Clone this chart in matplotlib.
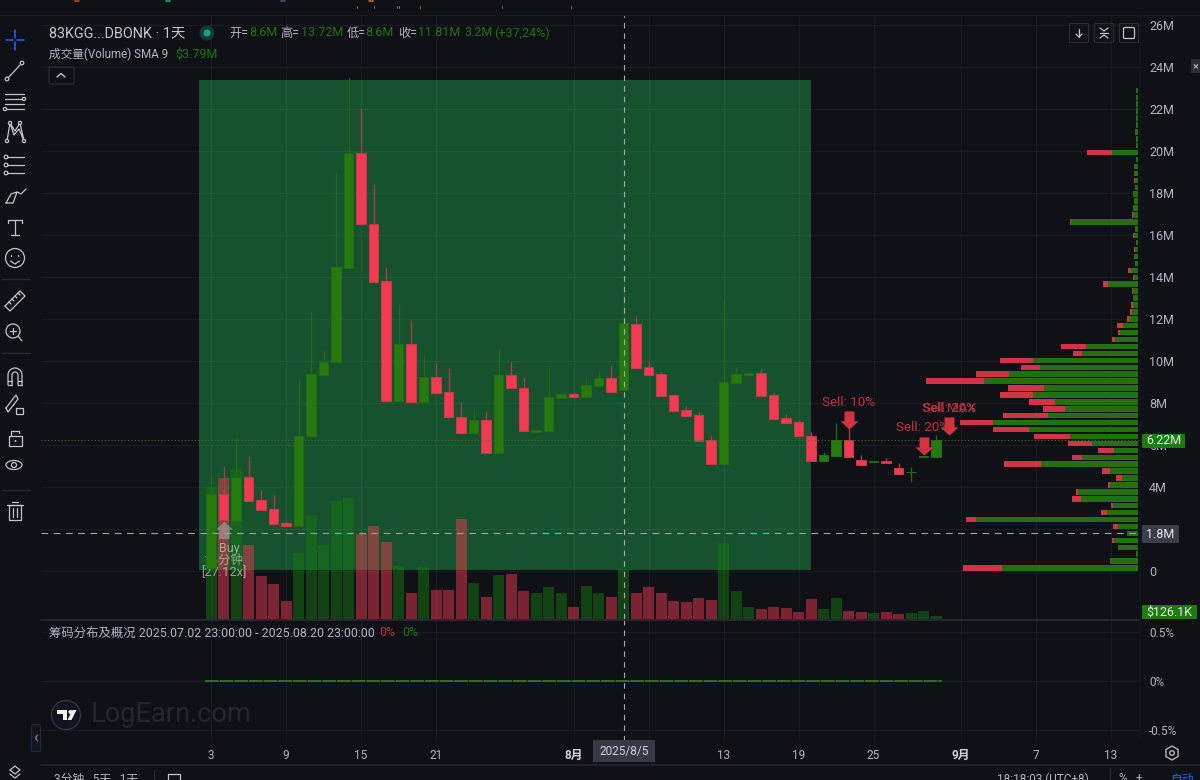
import matplotlib
matplotlib.use("Agg")
import matplotlib.pyplot as plt
import numpy as np
from matplotlib.patches import Rectangle, FancyBboxPatch, Circle, RegularPolygon, Ellipse, Polygon
from matplotlib.path import Path

plt.rcParams['font.family'] = ['Roboto', 'Noto Sans CJK SC', 'DejaVu Sans']

# candles, one per day from 2025/7/3, values in millions
opens = [0.14, 3.67, 2.38, 4.48, 3.38, 2.95, 2.29, 2.14, 6.43, 9.33, 9.95, 14.43, 19.90, 16.52, 13.81,
         8.10, 10.81, 8.05, 9.24, 8.52, 7.33, 6.57, 7.19, 5.62, 9.33, 8.71, 6.64, 6.67, 8.24, 8.43,
         8.29, 8.81, 9.19, 8.60, 11.76, 9.71, 9.38, 8.38, 7.67, 7.43, 6.24, 5.10, 8.95, 9.33, 9.43,
         8.38, 7.29, 7.10, 6.43, 5.24, 5.48, 6.24, 5.29, 5.19, 5.24, 4.90, 4.70, 5.43, 5.43]
highs = [4.67, 4.95, 6.33, 5.48, 3.86, 3.62, 2.38, 9.10, 12.33, 10.52, 18.95, 23.48, 22.05, 18.43, 14.48,
         12.71, 11.95, 10.29, 9.90, 9.67, 8.05, 7.76, 7.62, 10.57, 9.95, 9.24, 6.76, 9.76, 8.48, 8.52,
         9.29, 9.52, 9.76, 13.72, 12.14, 10.00, 9.48, 8.43, 7.86, 7.57, 6.48, 13.00, 9.71, 9.48, 9.62,
         8.52, 7.48, 7.19, 6.62, 5.67, 7.05, 6.81, 5.52, 5.24, 5.38, 5.14, 4.95, 5.48, 6.48]
lows = [0.14, 2.43, 2.38, 3.33, 2.90, 2.24, 2.14, 2.14, 6.43, 9.33, 9.95, 14.43, 16.52, 13.76, 8.10,
        8.10, 8.05, 8.05, 8.48, 7.33, 6.57, 6.57, 5.62, 5.62, 8.71, 6.67, 6.64, 6.67, 8.24, 8.29,
        8.29, 8.81, 8.52, 8.60, 9.67, 9.33, 8.33, 7.62, 7.38, 6.19, 5.10, 5.10, 8.95, 9.33, 8.33,
        7.24, 7.05, 6.43, 5.24, 5.24, 5.48, 5.43, 5.05, 5.19, 5.14, 4.62, 4.24, 5.43, 5.43]
closes = [3.67, 2.43, 4.48, 3.33, 2.90, 2.24, 2.14, 6.43, 9.38, 9.95, 14.48, 19.90, 16.52, 13.76, 8.10,
          10.81, 8.05, 9.24, 8.48, 7.33, 6.57, 7.19, 5.62, 9.33, 8.71, 6.67, 6.71, 8.29, 8.43, 8.29,
          8.86, 9.19, 8.52, 11.81, 9.67, 9.33, 8.33, 7.62, 7.38, 6.19, 5.10, 9.00, 9.38, 9.43, 8.33,
          7.24, 7.05, 6.43, 5.24, 5.52, 6.24, 5.43, 5.05, 5.24, 5.14, 4.62, 4.71, 5.48, 6.22]
volumes = [5.50, 5.88, 6.25, 3.08, 1.79, 1.46, 0.75, 2.75, 4.33, 3.08, 4.92, 5.04, 3.54, 3.88, 3.21,
           2.21, 1.08, 2.17, 1.21, 1.21, 4.17, 1.50, 0.92, 1.83, 1.88, 1.17, 1.08, 1.33, 1.08, 0.50,
           1.38, 1.08, 0.92, 2.08, 1.08, 1.33, 1.08, 0.75, 0.71, 0.88, 0.79, 3.17, 1.17, 0.50, 0.42,
           0.50, 0.46, 0.29, 0.83, 0.42, 0.88, 0.33, 0.29, 0.25, 0.29, 0.21, 0.25, 0.33, 0.126]

# volume profile, lowest price bin first
prof_buy = [135.7, 28, 1.3, 20, 24, 10.7, 19.3, 161.7, 30.7, 24.7, 56.7, 60, 27.7, 15.7, 27.7, 96.7, 55.7, 23.7,
            46, 67.7, 108.7, 144.3, 89.7, 72.7, 82.7, 105, 93.7, 153.7, 128.7, 97.3, 104.3, 55.7, 52, 22.7, 17.7,
            14.7, 8.7, 6, 5, 4.7, 4.3, 29.7, 3.7, 6.3, 2.7, 3.7, 3, 1.7, 3.7, 2.7, 66.3, 4.3, 4.7, 3.7, 4.7, 2.7,
            3, 3.7, 3.7, 1.7, 26, 1.7, 1.7, 2.7, 1.7, 2, 1.3, 1.3, 1.3, 1.3]
prof_sell = [39, 0, 0, 0, 2, 0, 5, 10.3, 6, 2.3, 9.3, 1.7, 2, 6, 8, 37, 10.3, 15.7,
             23.7, 35.7, 35.7, 33, 45, 22, 26, 32.3, 35.7, 58, 33, 19, 33, 8.7, 24.3, 2.7, 1.7,
             6.3, 2, 1.3, 1.3, 0, 1.3, 4.7, 1, 3.3, 0, 0, 0.7, 0, 1, 0, 1, 1.3, 0, 0, 0, 0,
             0.7, 0, 0, 0, 24.7, 0, 0, 0, 0, 0, 0, 0, 0, 0]
prof_start = 0.14
prof_step = 0.3297

# the 2M and 7 labels sit behind the cursor tags in the screenshot
price_ticks = [0, 2, 4, 6, 8, 10, 12, 14, 16, 18, 20, 22, 24, 26]
price_labels = ['0', '', '4M', '6M', '8M', '10M', '12M', '14M', '16M', '18M', '20M', '22M', '24M', '26M']
day_ticks = [0, 6, 12, 18, 29, 35, 41, 47, 53, 60, 66, 72]
day_labels = ['3', '9', '15', '21', '8月', '', '13', '19', '25', '9月', '7', '13']
pct_ticks = [0.5, 0, -0.5]
pct_labels = ['0.5%', '0%', '-0.5%']

BG = '#0f1117'
GREEN = '#267a10'
RED = '#f23a52'
TXT = '#b2b5be'
DIMGREEN = '#1f7413'
ICON = '#c4c6cc'

fig = plt.figure(figsize=(12, 7.8), dpi=100, facecolor=BG)


def pane(top, bottom):
    return [41 / 1200, 1 - bottom / 780, 1099 / 1200, (bottom - top) / 780]


xlim = ((41 - 211) / 12.5, (1140 - 211) / 12.5)
ylim = ((571 - 619) / 21, (571 - 15) / 21)

# base layer: background, range box, grid, price labels
ax = fig.add_axes(pane(15, 619), facecolor=BG)
ax.set_xlim(xlim)
ax.set_ylim(ylim)
ax.add_patch(Rectangle((-1, 0.05), 49, 23.33, facecolor='#16522e', edgecolor='none', zorder=1))
ax.set_xticks(day_ticks)
ax.set_yticks(price_ticks)
ax.set_yticklabels(price_labels, fontsize=9, color=TXT)
ax.set_xticklabels([])
ax.yaxis.tick_right()
ax.tick_params(length=0, pad=6.5)
ax.grid(True, color='white', alpha=0.042, lw=1, zorder=1.5)
ax.set_axisbelow(False)
for s in ax.spines.values():
    s.set_visible(False)

days = np.arange(len(opens))
op = np.array(opens)
cl = np.array(closes)
lo = np.array(lows)
hi = np.array(highs)
up = cl >= op

# volume layer
vax = fig.add_axes(pane(15, 619), facecolor='none')
vax.set_xlim(xlim)
vax.set_ylim(0, 604 / 24)
vax.bar(days, volumes, width=0.88, color=['#177a10' if u else RED for u in up], alpha=0.48, linewidth=0)
vax.axis('off')

# candle layer
top = fig.add_axes(pane(15, 619), facecolor='none')
top.set_xlim(xlim)
top.set_ylim(ylim)
top.axis('off')

# Buy marker sits under the candles
arrow_up = Path([(-0.6, -1), (0.6, -1), (0.6, 0.1), (1, 0.1), (0, 1), (-1, 0.1), (-0.6, 0.1), (-0.6, -1)], closed=True)
arrow_down = Path([(-0.55, 1), (0.55, 1), (0.55, -0.1), (1, -0.1), (0, -1), (-1, -0.1), (-0.55, -0.1), (-0.55, 1)], closed=True)
top.plot([1], [1.95], marker=arrow_up, ms=12.5, color='#c8ccd2', alpha=0.42, mew=0, zorder=2)
top.text(1.5, 1.07, 'Buy', color='#d8c8c8', alpha=0.7, fontsize=9, ha='center', va='center', zorder=2)
top.text(1, 0.5, '15分钟', color='#d8c8c8', alpha=0.65, fontsize=9, ha='center', va='center', zorder=2)
top.text(1, -0.05, '[27.12x]', color='#d8d8d8', alpha=0.65, fontsize=9.3, ha='center', va='center', zorder=2)

top.vlines(days[up], lo[up], hi[up], color='#1f6e12', lw=0.9, zorder=3)
top.vlines(days[~up], lo[~up], hi[~up], color='#b83a4c', lw=0.9, zorder=3)
top.bar(days[up], (cl - op)[up], bottom=op[up], width=0.76, color=GREEN, edgecolor='#226e10', linewidth=0.7, zorder=4)
top.bar(days[~up], (op - cl)[~up], bottom=cl[~up], width=0.76, color=RED, edgecolor='#c93a4c', linewidth=0.7, zorder=4)

# profile layer, bars grow leftwards from the right edge
pax = fig.add_axes(pane(15, 619), facecolor='none')
pax.set_xlim(1137.7 - 41, 1137.7 - 1140)
pax.set_ylim(ylim)
pax.axis('off')
bins = prof_start + prof_step * np.arange(len(prof_buy))
pax.barh(bins, prof_buy, height=0.26, color='#22700f', linewidth=0)
pax.barh(bins, prof_sell, left=prof_buy, height=0.26, color='#cf3448', linewidth=0)

# last price, cursor lines and sell marks on top
mark = fig.add_axes(pane(15, 619), facecolor='none')
mark.set_xlim(xlim)
mark.set_ylim(ylim)
mark.axis('off')
mark.axhline(6.22, color='#2c7a1c', lw=0.8, ls=(0, (1, 2)))
mark.axhline(1.8, color='#a0a3aa', lw=0.8, ls=(0, (6, 5)))
mark.axvline(33, color='#a8abb2', lw=0.8, ls=(0, (5, 4.5)))
sell_x = [51, 57, 59.04]
sell_y = [7.19, 5.95, 6.9]
mark.plot(sell_x, sell_y, ls='none', marker=arrow_down, ms=13, color='#d5323f', mew=0)
RED_T = '#c23242'
mark.text(51, 8.0, 'Sell: 10%', color=RED_T, fontsize=9.6, ha='center', va='center')
mark.text(56.9, 6.81, 'Sell: 20%', color=RED_T, fontsize=9.6, ha='center', va='center')
mark.text(59.04, 7.76, 'Sell: 20%', color=RED_T, fontsize=9.6, ha='center', va='center')
mark.text(59.04, 7.76, 'Sell MAX', color=RED_T, fontsize=9.6, ha='center', va='center')

# lower pane
sub = fig.add_axes(pane(620, 741), facecolor='none')
sub.set_xlim(xlim)
sub.set_ylim(-0.5 - 11 / 98, 0.5 + 12 / 98)
sub.set_xticks(day_ticks)
sub.set_xticklabels(day_labels, fontsize=8.5, color=TXT)
for lab, txt_ in zip(sub.get_xticklabels(), day_labels):
    if '月' in txt_:
        lab.set_fontweight('bold')
        lab.set_color('#d1d4dc')
sub.set_yticks(pct_ticks)
sub.set_yticklabels(pct_labels, fontsize=8.5, color=TXT)
sub.yaxis.tick_right()
sub.tick_params(axis='y', length=0, pad=6.5)
sub.tick_params(axis='x', length=0, pad=6)
sub.grid(True, color='white', alpha=0.042, lw=1)
for s in sub.spines.values():
    s.set_visible(False)
sub.hlines(0, days[0] - 0.5, days[-1] + 0.5, color='#229a10', lw=1.1, ls=(0, (9, 0.6)))
sub.axvline(33, color='#a8abb2', lw=0.8, ls=(0, (5, 4.5)))

# everything around the chart, in pixel coordinates
ui = fig.add_axes([0, 0, 1, 1], facecolor='none', zorder=20)
ui.set_xlim(0, 1200)
ui.set_ylim(780, 0)
ui.axis('off')


def line(xs, ys, c=ICON, lw=0.9):
    ui.plot(xs, ys, color=c, lw=lw, solid_capstyle='round')


def txt(x, y, s, c=TXT, fs=8.5, **kw):
    kw.setdefault('ha', 'left')
    ui.text(x, y, s, color=c, fontsize=fs, va='center', **kw)


def tag(x0, x1, y0, y1, fc, s, c='#e8eaed', fs=9):
    ui.add_patch(FancyBboxPatch((x0 + 1, y0 + 1), x1 - x0 - 2, y1 - y0 - 2, boxstyle='round,pad=1', fc=fc, ec='none', zorder=5))
    ui.text((x0 + x1) / 2, (y0 + y1) / 2, s, color=c, fontsize=fs, ha='center', va='center', zorder=6)


line([41, 1140], [619.5, 619.5], '#2a2d33', 1.2)
line([41, 1200], [765, 765], '#24262c', 1.2)
line([0, 1200], [15, 15], '#16181e', 1)
line([1140, 1140], [15, 740], '#14161c', 0.8)

# scraps of the toolbar above, cut by the crop
for x, c in [(77, '#c0392b'), (168, '#1f9d87'), (283, '#3a5a80'), (371, '#d2691e')]:
    line([x - 2, x + 2], [0.8, 0.8], c, 1.2)
for x in [357, 374, 397, 399, 420, 502, 571]:
    line([x, x], [6, 8], '#6a6d75', 0.7)

# header
txt(49, 33, '83KGG...DBONK · 1天', '#c6c8ce', 10.4)
ui.add_patch(Circle((207, 33), 7.5, fc='#123a38', ec='none'))
ui.add_patch(Circle((207, 33), 3.5, fc='#1f9d87', ec='none'))
for x, s in [(229.5, '开='), (280.5, '高='), (346.5, '低='), (398, '收=')]:
    txt(x, 33, s, TXT, 8.8)
for x, s in [(249, '8.6M'), (301, '13.72M'), (365.5, '8.6M'), (418, '11.81M'), (464, '3.2M'), (494, '(+37,24%)')]:
    txt(x, 33, s, DIMGREEN, 9)
txt(49, 54, '成交量(Volume) SMA 9', TXT, 8.4)
txt(175.5, 54, '$3.79M', DIMGREEN, 9)
ui.add_patch(FancyBboxPatch((50, 68), 23, 15, boxstyle='round,pad=1', fc='none', ec='#2e3138', lw=0.8))
line([57, 61, 65], [77, 73.5, 77], ICON, 1)

# lower pane title
txt(49, 633, '筹码分布及概况 2025.07.02 23:00:00 - 2025.08.20 23:00:00', TXT, 8.9)
txt(379, 633, '0%', '#b5303f', 8.9)
txt(402, 633, '0%', DIMGREEN, 8.9)

# price and date tags
tag(1142, 1185, 434, 448, '#217a10', '6.22M')
tag(1142, 1179, 525, 543, '#3a3e49', '1.8M')
tag(1142, 1197, 605, 619, '#217a10', '$126.1K')
ui.add_patch(Rectangle((593, 740), 62, 22, fc='#363a45', ec='none', zorder=5))
ui.text(624, 751, '2025/8/5', color='#d1d4dc', fontsize=8.5, ha='center', va='center', zorder=6)

# watermark and logo
ui.add_patch(Circle((66, 715), 14.5, fc='#0f1420', ec='#2f3644', lw=1))
ui.add_patch(Polygon([(57, 710), (67, 710), (67, 720), (62.5, 720), (62.5, 714), (57, 714)], fc='#f0f0f0', ec='none'))
ui.add_patch(Circle((70.5, 712), 2, fc='#f0f0f0', ec='none'))
ui.add_patch(Polygon([(67.5, 720), (72.5, 710), (76.5, 710), (71.5, 720)], fc='#f0f0f0', ec='none'))
txt(91, 715, 'LogEarn.com', '#25272d', 19.6)
ui.add_patch(FancyBboxPatch((33, 726), 6, 24, boxstyle='round,pad=1.5', fc='#12151c', ec='#1e2a44', lw=0.8))
line([37.5, 35.5, 37.5], [735, 738, 741], '#8d93a0', 0.8)

# top right buttons
for x in [1079, 1104, 1129]:
    ui.add_patch(FancyBboxPatch((x - 8.5, 24.5), 17, 17, boxstyle='round,pad=1', fc='none', ec='#2b2e35', lw=0.8))
line([1079, 1079], [29, 37])
line([1076, 1079, 1082], [34, 37, 34])
line([1100, 1104, 1108], [28, 31, 28])
line([1100, 1104, 1108], [38, 35, 38])
line([1100, 1108], [33, 33])
ui.add_patch(FancyBboxPatch((1125, 29), 8, 8, boxstyle='round,pad=1.5', fc='none', ec=ICON, lw=0.9))
ui.add_patch(Rectangle((1191, 59), 9, 14, fc='#2a2d33', ec='none'))
txt(1193, 66, '×', ICON, 8)

# settings hexagon and bottom strip, cut by the edge like the screenshot
ui.add_patch(RegularPolygon((1172, 753), 6, radius=7, fc='none', ec=TXT, lw=1))
ui.add_patch(Circle((1172, 753), 2.3, fc='none', ec=TXT, lw=1))
txt(54, 779, '3分钟   5天   1天', TXT, 8.5)
line([154, 154], [770, 780], '#2a2d33', 0.8)
ui.add_patch(Rectangle((168, 774), 12, 10, fc='none', ec=ICON, lw=0.9))
txt(997, 779, '18:18:03 (UTC+8)', TXT, 8.5)
line([1110, 1110], [768, 780], '#2a2d33', 0.8)
txt(1118, 779, '%', TXT, 8.5)
txt(1136, 779, '+', TXT, 8.5)
txt(1170, 779, '自动', '#2962ff', 8.5)
line([10, 15, 20, 15, 10], [770, 766, 770, 774, 770])
line([10, 15, 20], [774, 778, 774])

# left toolbar
line([6, 13], [40, 40], '#2962ff', 1.1)
line([17, 24], [40, 40], '#2962ff', 1.1)
line([15, 15], [30, 38], '#2962ff', 1.1)
line([15, 15], [42, 50], '#2962ff', 1.1)
line([7, 22], [79, 63])
ui.add_patch(Circle((7, 79), 1.8, fc=BG, ec=ICON, lw=0.9, zorder=3))
ui.add_patch(Circle((22, 63), 1.8, fc=BG, ec=ICON, lw=0.9, zorder=3))
for y in [94, 99, 104, 109]:
    line([5, 24], [y, y])
ui.add_patch(Circle((24, 99), 1.6, fc=BG, ec=ICON, lw=0.9, zorder=3))
ui.add_patch(Circle((5, 109), 1.6, fc=BG, ec=ICON, lw=0.9, zorder=3))
line([7, 10, 15, 20, 24, 19, 14, 10], [141, 123, 131, 123, 141, 129, 135, 123])
for x, y in [(7, 141), (10, 123), (20, 123), (24, 141)]:
    ui.add_patch(Circle((x, y), 1.6, fc=BG, ec=ICON, lw=0.9, zorder=3))
for y in [157, 165, 173]:
    line([6, 24], [y, y])
    ui.add_patch(Circle((6, y), 1.8, fc=BG, ec=ICON, lw=0.9, zorder=3))
line([6, 11, 17, 13, 6], [203, 194, 192, 203, 203])
line([17, 21, 26], [192, 194, 189])
line([8, 22], [220, 220])
line([8, 8], [220, 223])
line([22, 22], [220, 223])
line([15, 15], [220, 235])
line([11, 19], [235, 235])
ui.add_patch(Circle((15, 258), 9.5, fc='none', ec=ICON, lw=0.9))
ui.add_patch(Ellipse((11.5, 256), 1.5, 2, fc=ICON, ec='none'))
ui.add_patch(Ellipse((18.5, 256), 1.5, 2, fc=ICON, ec='none'))
line([10.5, 15, 19.5], [261, 264, 261])
for y in [279, 353, 490]:
    line([2, 30], [y, y], '#2b2e35', 0.9)
line([5, 20, 25, 10, 5], [306, 291, 296, 311, 306])
for d in [0, 1, 2, 3]:
    line([9 + 3 * d, 11 + 3 * d], [302 - 3 * d, 304 - 3 * d])
ui.add_patch(Circle((13, 331), 7, fc='none', ec=ICON, lw=0.9))
line([18, 22], [336, 341])
line([10, 16], [331, 331])
line([13, 13], [328, 334])
a = np.linspace(np.pi, 2 * np.pi, 20)
line(np.r_[8, 15 + 7 * np.cos(a), 22], np.r_[385, 375 + 7 * np.sin(a), 385])
line(np.r_[12, 15 + 3 * np.cos(a), 18], np.r_[385, 375 + 3 * np.sin(a), 385])
line([8, 12], [381, 381])
line([18, 22], [381, 381])
line([8, 12], [385, 385])
line([18, 22], [385, 385])
line([6, 16, 18, 8, 6], [408, 395, 399, 412, 408])
ui.add_patch(Rectangle((16, 408), 7, 6, fc='none', ec=ICON, lw=0.9))
ui.add_patch(Rectangle((9, 436), 13, 10, fc='none', ec=ICON, lw=0.9))
ui.add_patch(Circle((15.5, 441), 1, fc=ICON, ec='none'))
line([11, 11, 19, 19], [436, 431, 431, 433])
ui.add_patch(Ellipse((14, 465), 16, 9, fc='none', ec=ICON, lw=0.9))
ui.add_patch(Circle((14, 465), 2.5, fc='none', ec=ICON, lw=0.9))
ui.add_patch(Rectangle((9, 505), 12, 15, fc='none', ec=ICON, lw=0.9))
line([7, 23], [505, 505])
line([12, 18], [502, 502])
line([13, 13], [508, 517])
line([17, 17], [508, 517])

fig.savefig('out.png', dpi=100, facecolor=BG)
